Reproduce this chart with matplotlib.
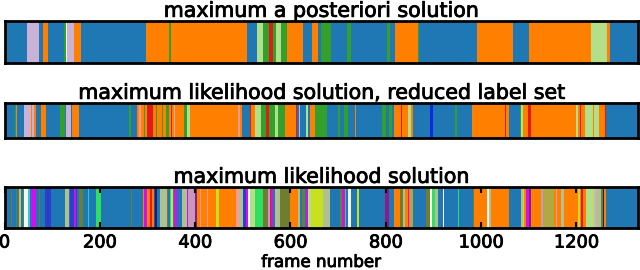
import matplotlib
matplotlib.use("Agg")
import matplotlib.pyplot as plt
import matplotlib.patheffects as pe

n_frames = 1328

# label colours (Paired-like palette plus the extra labels of the full set)
colors = {
    'B': '#1f78b4', 'G': '#33a02c', 'LG': '#b2df8a', 'R': '#e31a1c',
    'O': '#ff7f00', 'L': '#cab2d6', 'S': '#fb9a99', 'DB': '#0a28e6',
    'M': '#d010f0', 'RB': '#2c3ecc', 'BG': '#2ee060', 'OL': '#6e7d32',
    'SG': '#b0c090', 'PK': '#c897c0', 'PU': '#8c1a8c', 'LI': '#c8e020',
    'YO': '#b0a840', 'W': '#f4f4f0', 'N': '#1a2060', 'C': '#20d0d0',
}

# maximum a posteriori solution: segment start frame and label
map_starts = [0, 1, 5, 47, 73, 81, 92, 125, 130, 131, 146, 161, 296, 346, 349,
              509, 530, 543, 555, 563, 570, 581, 593, 627, 646, 657, 665, 684,
              718, 726, 802, 808, 819, 867, 869, 992, 1066, 1101, 1230, 1263, 1270]
map_labels = ['B', 'G', 'B', 'L', 'B', 'O', 'B', 'G', 'W', 'L', 'O', 'B', 'O', 'G', 'O',
              'B', 'LG', 'G', 'R', 'G', 'LG', 'G', 'O', 'B', 'O', 'B', 'G', 'B',
              'G', 'B', 'G', 'B', 'O', 'G', 'B', 'O', 'B', 'O', 'LG', 'O', 'B']

# maximum likelihood, reduced label set
red_starts = [0, 4, 21, 25, 27, 40, 55, 58, 61, 67, 77, 88, 117, 126, 130, 140, 142,
              156, 262, 265, 279, 283, 286, 292, 294, 300, 311, 318, 320, 330, 332,
              338, 345, 350, 352, 355, 358, 376, 383, 389, 489, 494, 498, 514, 517,
              525, 538, 548, 554, 567, 573, 588, 611, 613, 617, 619, 632, 636, 640,
              651, 676, 699, 703, 712, 720, 735, 738, 791, 800, 806, 812, 817, 831,
              834, 846, 852, 857, 892, 898, 945, 949, 980, 1050, 1052, 1058, 1081,
              1084, 1087, 1098, 1104, 1199, 1204, 1207, 1210, 1217, 1234, 1236,
              1247, 1259, 1262]
red_labels = ['G', 'B', 'G', 'O', 'B', 'L', 'O', 'L', 'O', 'B', 'O', 'B', 'G', 'B', 'L', 'B', 'O',
              'B', 'G', 'B', 'O', 'S', 'O', 'G', 'O', 'R', 'O', 'G', 'O', 'G', 'O',
              'G', 'O', 'R', 'O', 'L', 'O', 'G', 'LG', 'O', 'S', 'O', 'B', 'R', 'O',
              'LG', 'G', 'R', 'G', 'LG', 'G', 'O', 'R', 'B', 'L', 'B', 'LG', 'B', 'O',
              'G', 'B', 'G', 'B', 'G', 'B', 'O', 'B', 'G', 'B', 'G', 'B', 'O', 'R',
              'O', 'LG', 'O', 'B', 'DB', 'B', 'G', 'B', 'O', 'R', 'O', 'B', 'G',
              'LG', 'O', 'R', 'O', 'LG', 'O', 'R', 'O', 'LG', 'O', 'LG',
              'O', 'R', 'B']

# maximum likelihood, full label set
ml_starts = [0, 4, 14, 15, 24, 26, 28, 30, 34, 38, 40, 50, 53, 56, 67, 73, 75, 86, 98,
             126, 135, 138, 146, 149, 152, 157, 165, 175, 177, 191, 203, 265, 268,
             291, 293, 298, 305, 310, 313, 315, 319, 326, 340, 343, 348, 350, 353,
             356, 362, 372, 382, 384, 399, 403, 410, 412, 425, 427, 443, 451, 485,
             493, 500, 506, 510, 516, 525, 542, 553, 557, 559, 563, 567, 578, 599,
             616, 620, 624, 630, 632, 636, 643, 668, 682, 703, 709, 714, 716, 720,
             726, 739, 743, 798, 807, 818, 829, 836, 840, 846, 848, 850, 857, 884,
             893, 896, 903, 909, 920, 922, 951, 953, 982, 985, 1012, 1016, 1020,
             1058, 1083, 1087, 1090, 1094, 1100, 1104, 1125, 1130, 1152, 1158, 1160,
             1167, 1174, 1203, 1207, 1209, 1213, 1220, 1234, 1237, 1241, 1251, 1255,
             1258, 1262]
ml_labels = ['BG', 'B', 'OL', 'B', 'OL', 'B', 'OL', 'SG', 'B', 'OL', 'W', 'C', 'B', 'M', 'B', 'OL', 'B', 'RB', 'B',
             'SG', 'B', 'RB', 'M', 'RB', 'B', 'OL', 'B', 'C', 'B', 'BG', 'B', 'OL', 'B',
             'O', 'M', 'O', 'R', 'O', 'RB', 'N', 'B', 'SG', 'OL', 'B', 'BG', 'LG', 'OL',
             'M', 'B', 'SG', 'M', 'PK', 'PU', 'O', 'S', 'O', 'S', 'O', 'LI', 'O', 'S',
             'SG', 'RB', 'M', 'W', 'LG', 'BG', 'OL', 'PK', 'R', 'M', 'B', 'SG', 'OL', 'O',
             'SG', 'B', 'OL', 'B', 'M', 'LG', 'LI', 'SG', 'B', 'OL', 'M', 'BG', 'B', 'W',
             'B', 'LI', 'B', 'PU', 'B', 'O', 'OL', 'SG', 'O', 'M', 'O', 'YO', 'B', 'OL',
             'W', 'BG', 'SG', 'B', 'W', 'B', 'BG', 'B', 'OL', 'O', 'W', 'SG', 'O',
             'B', 'SG', 'LI', 'O', 'M', 'PU', 'O', 'PK', 'YO', 'O', 'S', 'O',
             'SG', 'O', 'LI', 'O', 'R', 'O', 'LG', 'LI', 'L', 'SG', 'OL', 'N',
             'O', 'B']

titles = ['maximum a posteriori solution',
          'maximum likelihood solution, reduced label set',
          'maximum likelihood solution']
xticks = [0, 200, 400, 600, 800, 1000, 1200]

# the original text looks a little heavier than plain DejaVu
heavy = [pe.withStroke(linewidth=0.6, foreground='black')]


def draw_strip(ax, starts, labels):
    ends = starts[1:] + [n_frames]
    for s, e, lab in zip(starts, ends, labels):
        ax.broken_barh([(s, e - s)], (0, 1), facecolors=colors[lab], linewidth=0)
    ax.set_xlim(0, n_frames)
    ax.set_ylim(0, 1)
    ax.set_yticks([])
    for sp in ax.spines.values():
        sp.set_linewidth(2.0)


fig = plt.figure(figsize=(6.4, 2.7), dpi=100)
left, width = 4.5 / 640, 633 / 640
positions = [(left, 207 / 270, width, 42 / 270),
             (left, 132 / 270, width, 35 / 270),
             (left, 42 / 270, width, 41 / 270)]
strips = [(map_starts, map_labels), (red_starts, red_labels), (ml_starts, ml_labels)]

for i, (pos, (st, lb)) in enumerate(zip(positions, strips)):
    ax = fig.add_axes(pos)
    draw_strip(ax, st, lb)
    ax.set_title(titles[i], fontsize=14.8, pad=3, path_effects=heavy)
    if i < 2:
        ax.set_xticks([])
    else:
        ax.set_xticks(xticks)
        ax.set_xticklabels([str(t) for t in xticks], fontsize=12.8, path_effects=heavy)
        ax.tick_params(axis='x', direction='in', top=True, length=4, width=1.5, pad=4)
        ax.set_xlabel('frame number', fontsize=12, labelpad=1, path_effects=heavy)

fig.savefig('out.png', dpi=100)
